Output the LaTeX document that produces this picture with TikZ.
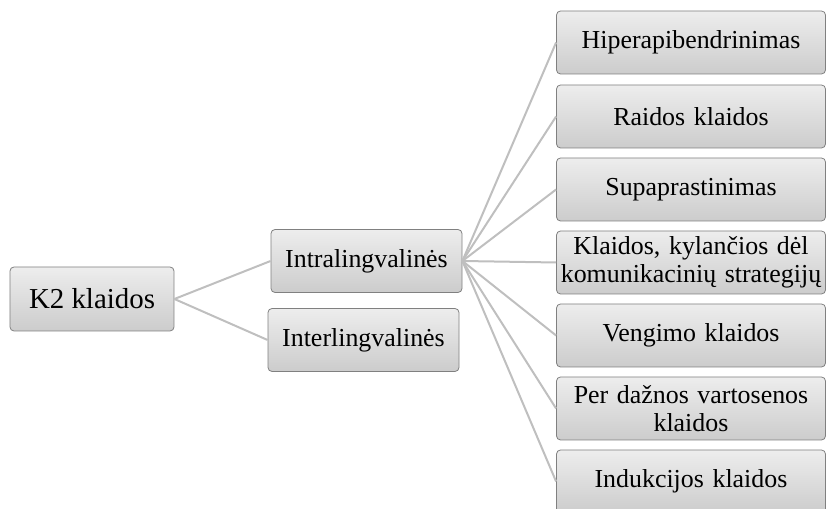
\documentclass[tikz,border=0pt]{standalone}
\usepackage{fontspec}
\setmainfont{Liberation Serif}
\newfontfamily\boxserif{Liberation Serif}
\usetikzlibrary{positioning}

\begin{document}
\begin{tikzpicture}[x=1bp, y=1bp,
  box/.style={draw=black!50, line width=0.8bp, rounded corners=4bp,
    top color=black!7, bottom color=black!20, inner sep=0pt,
    font=\boxserif\fontsize{26}{28.5}\selectfont, align=center},
  rootbox/.style={box, minimum width=164bp, minimum height=64bp, font=\boxserif\fontsize{29}{32}\selectfont},
  midbox/.style={box, minimum width=191bp, minimum height=63bp},
  leafbox/.style={box, text width=269bp, minimum height=63bp},
  link/.style={black!25, line width=2bp}]
\useasboundingbox (0,0) rectangle (827,509);
% root and second level
\node[rootbox] (k2) at (92,210) {K2 klaidos};
\node[midbox] (intra) at (366.5,248) {Intralingvalinės};
\node[midbox] (inter) at (363.5,169) {Interlingvalinės};
% leaves
\node[leafbox] (hiper) at (691,466.5) {Hiperapibendrinimas};
\node[leafbox] (raid) at (691,392.5) {Raidos klaidos};
\node[leafbox] (supap) at (691,319.5) {Supaprastinimas};
\node[leafbox] (komun) at (691,246.5) {Klaidos, kylančios dėl\\komunikacinių strategijų};
\node[leafbox] (veng) at (691,173.5) {Vengimo klaidos};
\node[leafbox] (dazn) at (691,100.5) {Per dažnos vartosenos\\klaidos};
\node[leafbox] (induk) at (691,27.5) {Indukcijos klaidos};
% connectors
\draw[link] (k2.east) -- (intra.west);
\draw[link] (k2.east) -- (inter.west);
\draw[link] (intra.east) -- (hiper.west);
\draw[link] (intra.east) -- (raid.west);
\draw[link] (intra.east) -- (supap.west);
\draw[link] (intra.east) -- (komun.west);
\draw[link] (intra.east) -- (veng.west);
\draw[link] (intra.east) -- (dazn.west);
\draw[link] (intra.east) -- (induk.west);
\end{tikzpicture}
\end{document}
